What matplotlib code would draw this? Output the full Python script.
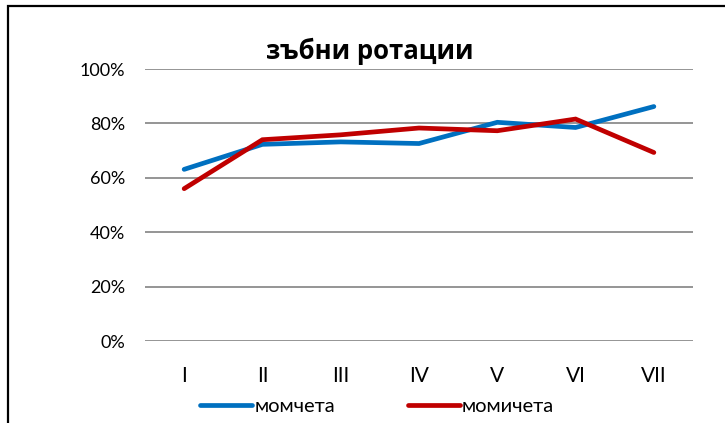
import matplotlib
matplotlib.use("Agg")
import matplotlib.pyplot as plt
from matplotlib.patches import Rectangle
from matplotlib.ticker import PercentFormatter

categories = ["I", "II", "III", "IV", "V", "VI", "VII"]
boys = [63.1, 72.3, 73.2, 72.6, 80.4, 78.5, 86.2]
girls = [56.0, 74.0, 75.8, 78.3, 77.3, 81.6, 69.3]
series_names = ["момчета", "момичета"]
title = "зъбни ротации"

W, H = 725, 423
fig = plt.figure(figsize=(W / 100, H / 100), dpi=100)
fig.patch.set_facecolor("white")

# outer chart border (left and top visible, rest clipped)
fig.patches.append(Rectangle((8 / W, -0.05), 1.2, 1 - 6 / H + 0.05,
                             transform=fig.transFigure, fill=False,
                             edgecolor="black", linewidth=1.6))

ax = fig.add_axes([145 / W, 1 - 341 / H, (693 - 145) / W, (341 - 69) / H])
x = list(range(len(categories)))
l1, = ax.plot(x, boys, color="#0070C0", linewidth=3.4, solid_capstyle="round",
              solid_joinstyle="miter", label=series_names[0], zorder=3)
l2, = ax.plot(x, girls, color="#C00000", linewidth=3.4, solid_capstyle="round",
              solid_joinstyle="miter", label=series_names[1], zorder=4)

ax.set_xlim(-0.5, len(categories) - 0.5)
ax.set_ylim(0, 100)
ax.set_yticks([0, 20, 40, 60, 80, 100])
ax.yaxis.set_major_formatter(PercentFormatter(decimals=0))
ax.set_xticks(x)
ax.set_xticklabels(categories, fontsize=15, fontfamily="Lato")
for t in ax.get_yticklabels():
    t.set_fontfamily("Lato")
    t.set_fontsize(13)
ax.tick_params(axis="both", length=0, colors="black")
ax.tick_params(axis="y", pad=14.5)
ax.tick_params(axis="x", pad=18)
ax.grid(axis="y", color="#8c8c8c", linewidth=1.3)
ax.set_axisbelow(True)
for s in ax.spines.values():
    s.set_visible(False)

fig.text(370 / W, 1 - 51 / H, title, ha="center", va="center",
         fontsize=18.5, fontweight="bold", fontfamily="Open Sans")

fig.legend(handles=[l1, l2], loc="center", bbox_to_anchor=(377 / W, 1 - 406 / H),
           ncol=2, frameon=False, prop={"family": "Lato", "size": 14.5},
           handlelength=2.6, handletextpad=0.1, columnspacing=3.6)

fig.savefig("out.png", dpi=100)
